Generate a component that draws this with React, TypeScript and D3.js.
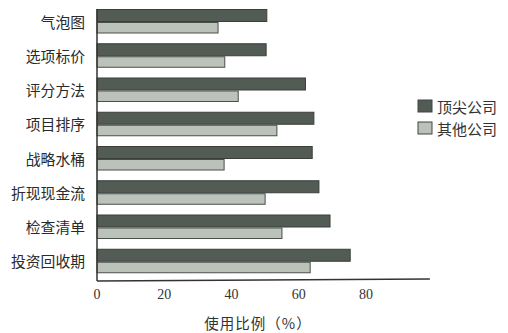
import React from "react";
import * as d3 from "d3";

const categories = ["气泡图", "选项标价", "评分方法", "项目排序", "战略水桶", "折现现金流", "检查清单", "投资回收期"];
const topCompanies = [50.5, 50.3, 62, 64.5, 64, 66, 69.3, 75.3];
const otherCompanies = [36, 38, 42, 53.5, 37.8, 50, 55, 63.4];
const xTicks = [0, 20, 40, 60, 80];
const seriesNames = ["顶尖公司", "其他公司"];
const axisTitle = "使用比例（%）";

const W = 508, H = 333;
const darkFill = "#535b55", lightFill = "#bac2ba";
const cjk = "'Noto Sans CJK SC', sans-serif";
const serif = "'Liberation Serif', 'DejaVu Serif', serif";

export default function App() {
  const x = d3.scaleLinear().domain([0, 100]).range([97, 97 + 336.25]);
  const y = d3.scaleBand<string>().domain(categories).range([9, 283]).paddingInner(0).paddingOuter(0);
  const axisY = 281;
  return (
    <svg width={W} height={H} style={{ position: "absolute", left: 0, top: 0, background: "#fff" }}>
      {categories.map((c, i) => {
        const y0 = y(c)!;
        return (
          <g key={c}>
            <rect x={x(0)} y={y0 + 0.5} width={x(topCompanies[i]) - x(0)} height={12} fill={darkFill} stroke="#3a3f3b" strokeWidth={1} />
            <rect x={x(0)} y={y0 + 13.5} width={x(otherCompanies[i]) - x(0)} height={10.5} fill={lightFill} stroke="#4a4f4b" strokeWidth={1} />
            <text x={85} y={y0 + 12} textAnchor="end" dominantBaseline="central" fontFamily={cjk} fontSize={14.8} fill="#2a2a2a">{c}</text>
          </g>
        );
      })}
      <line x1={x(0)} x2={x(0)} y1={9} y2={axisY} stroke="#333" strokeWidth={1.5} />
      <line x1={x(0)} x2={x(99)} y1={axisY} y2={axisY - 2} stroke="#333" strokeWidth={1.5} />
      {xTicks.map((t) => (
        <text key={t} x={x(t)} y={294} textAnchor="middle" dominantBaseline="central" fontFamily={serif} fontSize={14} fill="#333">{t}</text>
      ))}
      <text x={258} y={322} textAnchor="middle" dominantBaseline="central" fontFamily={cjk} fontSize={14.5} fill="#333" letterSpacing={1}>{axisTitle}</text>
      {seriesNames.map((s, i) => (
        <g key={s}>
          <rect x={418} y={100 + i * 22} width={14} height={12} fill={i === 0 ? darkFill : lightFill} stroke="#444" strokeWidth={1} />
          <text x={437} y={106 + i * 22} dominantBaseline="central" fontFamily={cjk} fontSize={15} fill="#333">{s}</text>
        </g>
      ))}
    </svg>
  );
}
